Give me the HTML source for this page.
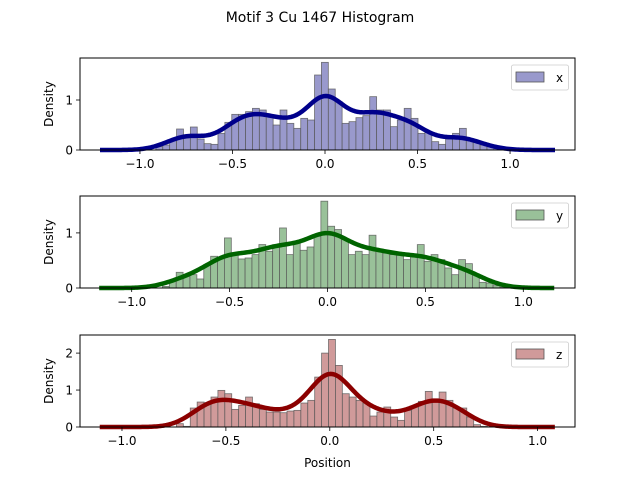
<!DOCTYPE html>
<html><head><meta charset="utf-8"><style>
body{margin:0;background:#fff}
svg text{font-family:"DejaVu Sans","Liberation Sans",sans-serif}
</style></head><body>
<svg id="chart" width="640" height="480" viewBox="0 0 640 480" xmlns="http://www.w3.org/2000/svg">
<text x="320" y="22" text-anchor="middle" font-size="14">Motif 3 Cu 1467 Histogram</text>
<text x="327.5" y="467" text-anchor="middle" font-size="12">Position</text>
</svg>
<script>
// data
const xHeights=[0.067,0.1,0.2,0.42,0.3,0.46,0.22,0.127,0.113,0.333,0.553,0.713,0.713,0.767,0.833,0.8,0.667,0.5,0.8,0.533,0.433,0.633,0.6,1.5,1.753,1.22,0.967,0.533,0.567,0.647,0.687,1.067,0.8,0.8,0.467,0.6,0.833,0.633,0.333,0.353,0.167,0.113,0.22,0.333,0.433,0.2,0.153,0.1,0.067,0.033];
const yHeights=[0.03,0.139,0.285,0.212,0.242,0.164,0.424,0.576,0.564,0.909,0.636,0.527,0.545,0.606,0.788,0.667,0.788,1.09,0.606,0.818,0.685,0.745,0.939,1.576,1.121,1.061,0.879,0.606,0.667,0.606,0.958,0.667,0.636,0.606,0.606,0.515,0.576,0.788,0.485,0.606,0.515,0.364,0.242,0.515,0.442,0.242,0.103,0.091,0.042,0.018];
const zHeights=[0.09,0.018,0.514,0.676,0.658,0.811,0.991,0.901,0.477,0.586,0.811,0.631,0.477,0.405,0.405,0.387,0.432,0.45,0.649,0.721,1.351,2.0,2.37,1.667,0.901,0.811,0.721,0.649,0.297,0.405,0.541,0.27,0.18,0.45,0.541,0.694,0.964,0.721,0.946,0.721,0.514,0.514,0.27,0.063,0.018];
const xTicks=[-1.0,-0.5,0.0,0.5,1.0];
const xTickLabels=["−1.0","−0.5","0.0","0.5","1.0"];
const yTicks1=[0,1], yTicks2=[0,1], yTicks3=[0,1,2];

const NS="http://www.w3.org/2000/svg";
const svg=document.getElementById('chart');
function mk(tag,attrs,parent){const e=document.createElementNS(NS,tag);for(const k in attrs)e.setAttribute(k,attrs[k]);(parent||svg).appendChild(e);return e;}

const panels=[
 {key:'x',h:xHeights,start:-0.914,end:0.95,xmin:-1.324,xmax:1.351,ymax:1.84,top:58,bot:150,yt:yTicks1,bw:0.085,lx0:-1.216,lx1:1.243,fill:'#9999cc',line:'#00008b'},
 {key:'y',h:yHeights,start:-0.843,end:0.916,xmin:-1.264,xmax:1.264,ymax:1.67,top:196,bot:288,yt:yTicks2,bw:0.09,lx0:-1.166,lx1:1.158,fill:'#99c199',line:'#006400'},
 {key:'z',h:zHeights,start:-0.738,end:0.759,xmin:-1.202,xmax:1.18,ymax:2.49,top:335,bot:427,yt:yTicks3,bw:0.078,lx0:-1.107,lx1:1.083,fill:'#d09a9a',line:'#8b0000'}
];
const L=80,R=575;
panels.forEach(p=>{
  const sx=v=>L+(v-p.xmin)/(p.xmax-p.xmin)*(R-L);
  const sy=v=>p.bot-v/p.ymax*(p.bot-p.top);
  const g=mk('g',{});
  
  
  const w=(p.end-p.start)/p.h.length;
  p.h.forEach((v,i)=>{
    const x0=p.start+i*w;
    const r=mk('rect',{x:sx(x0),y:sy(v),width:sx(x0+w)-sx(x0),height:sy(0)-sy(v),fill:p.fill,stroke:'#555','stroke-width':0.8,'stroke-opacity':0.8},g);
    
    
  });
  let d='';
  for(let k=0;k<=300;k++){
    const x=p.lx0+(p.lx1-p.lx0)*k/300;
    let s=0;
    p.h.forEach((v,i)=>{const c=p.start+(i+0.5)*w;const z=(x-c)/p.bw;s+=v*w*Math.exp(-0.5*z*z)/(p.bw*Math.sqrt(2*Math.PI));});
    d+=(k?'L':'M')+sx(x).toFixed(2)+','+sy(s).toFixed(2);
  }
  const ln=mk('path',{d:d,fill:'none',stroke:p.line,'stroke-width':4.5,'stroke-linejoin':'round'},g);
  
  
  const fr=mk('rect',{x:L,y:p.top,width:R-L,height:p.bot-p.top,fill:'none',stroke:'#000','stroke-width':1},g);
  
  
  xTicks.forEach((t,i)=>{
    const x=sx(t);
    mk('line',{x1:x,x2:x,y1:p.bot,y2:p.bot+4,stroke:'#000','stroke-width':0.8},g);
    const tx=mk('text',{x:x,y:p.bot+18,'text-anchor':'middle','font-size':12},g);
    tx.textContent=xTickLabels[i];
    
    
  });
  p.yt.forEach(t=>{
    const y=sy(t);
    mk('line',{x1:L-4,x2:L,y1:y,y2:y,stroke:'#000','stroke-width':0.8},g);
    const tx=mk('text',{x:L-7,y:y+4.5,'text-anchor':'end','font-size':12},g);
    tx.textContent=String(t);
    
    
  });
  const yl=mk('text',{x:0,y:0,'text-anchor':'middle','font-size':12,transform:'translate(53,'+((p.top+p.bot)/2)+') rotate(-90)'},g);
  yl.textContent='Density';
  
  
  const lg=mk('g',{},g);
  
  
  mk('rect',{x:511.5,y:p.top+7,width:57,height:25,rx:2,fill:'#fff','fill-opacity':0.8,stroke:'#ccc','stroke-width':0.8},lg);
  mk('rect',{x:516,y:p.top+14,width:28,height:10,fill:p.fill,stroke:'#555','stroke-width':0.8},lg);
  const lt=mk('text',{x:556,y:p.top+24,'font-size':12},lg);
  lt.textContent=p.key;
  
  
});
</script>
</body></html>
